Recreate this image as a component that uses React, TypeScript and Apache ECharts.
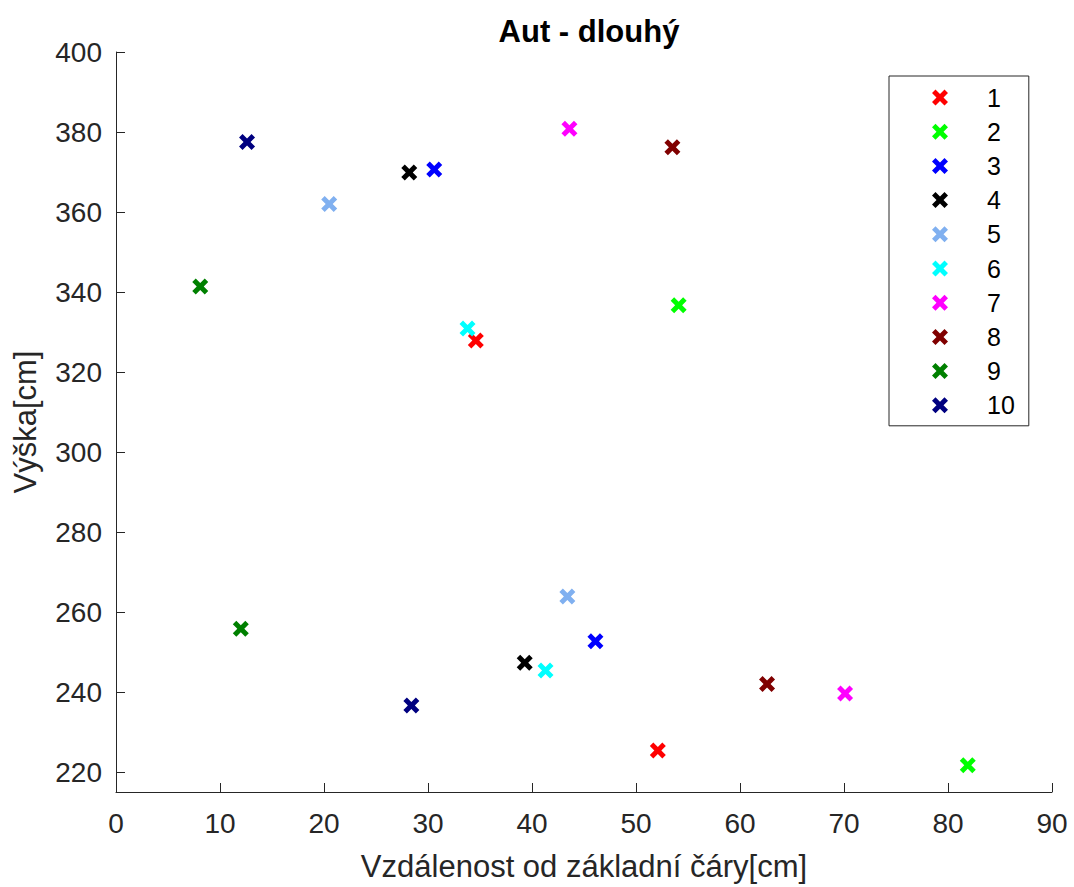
import React, { useEffect, useRef } from "react";
import * as echarts from "echarts";

// Series names (legend) and colours
const seriesNames = ["1", "2", "3", "4", "5", "6", "7", "8", "9", "10"];
const seriesColors = [
  "#FF0000",
  "#00FF00",
  "#0000FF",
  "#000000",
  "#80B0F0",
  "#00FFFF",
  "#FF00FF",
  "#800000",
  "#008000",
  "#000080",
];

// Data: [x (cm), y (cm)] pairs per series
const s1 = [[34.6, 327.9], [52.1, 225.4]];
const s2 = [[54.1, 336.7], [81.9, 221.7]];
const s3 = [[30.6, 370.6], [46.1, 252.7]];
const s4 = [[28.2, 369.9], [39.3, 247.3]];
const s5 = [[20.5, 362.0], [43.4, 263.9]];
const s6 = [[33.8, 330.9], [41.3, 245.4]];
const s7 = [[43.6, 380.8], [70.1, 239.6]];
const s8 = [[53.5, 376.2], [62.6, 242.0]];
const s9 = [[8.1, 341.4], [12.0, 255.8]];
const s10 = [[12.6, 377.5], [28.4, 236.6]];
const seriesData = [s1, s2, s3, s4, s5, s6, s7, s8, s9, s10];

// Axis ticks
const xMin = 0;
const xMax = 90;
const xInterval = 10;
const yMin = 215;
const yMax = 400;
const yTickValues = [220, 240, 260, 280, 300, 320, 340, 360, 380, 400];

const titleText = "Aut - dlouhý";
const xAxisTitle = "Vzdálenost od základní čáry[cm]";
const yAxisTitle = "Výška[cm]";

const FONT = "'Liberation Sans', Arial, Helvetica, sans-serif";
const AXIS_COLOR = "#262626";
const X_SYMBOL =
  "path://M0,3.5 L3.5,0 L8,4.5 L12.5,0 L16,3.5 L11.5,8 L16,12.5 L12.5,16 L8,11.5 L3.5,16 L0,12.5 L4.5,8 Z";

export default function App() {
  const ref = useRef<HTMLDivElement>(null);

  useEffect(() => {
    if (!ref.current) return;
    const chart = echarts.init(ref.current, null, { renderer: "svg" });

    const series = seriesNames.map((name, i) => ({
      name,
      type: "scatter",
      data: seriesData[i],
      symbol: X_SYMBOL,
      symbolSize: 16,
      itemStyle: { color: seriesColors[i], opacity: 1 },
      emphasis: { disabled: true },
    }));

    chart.setOption({
      animation: false,
      backgroundColor: "#ffffff",
      textStyle: { fontFamily: FONT },
      title: {
        text: titleText,
        left: 584,
        top: 11,
        textAlign: "center",
        textStyle: {
          fontFamily: FONT,
          fontSize: 31,
          fontWeight: "bold",
          color: "#000000",
        },
      },
      legend: {
        orient: "vertical",
        left: 889,
        top: 76,
        padding: [9, 14, 8, 43],
        itemWidth: 16,
        itemHeight: 16,
        itemGap: 9.2,
        borderColor: AXIS_COLOR,
        borderWidth: 1,
        backgroundColor: "#ffffff",
        selectedMode: false,
        data: seriesNames,
        textStyle: {
          fontFamily: FONT,
          fontSize: 25,
          color: "#000000",
          padding: [0, 0, 0, 34],
        },
      },
      grid: { left: 116, right: 22, top: 52, bottom: 94 },
      xAxis: {
        type: "value",
        min: xMin,
        max: xMax,
        interval: xInterval,
        name: xAxisTitle,
        nameLocation: "middle",
        nameGap: 59,
        nameTextStyle: { fontFamily: FONT, fontSize: 31, color: AXIS_COLOR },
        axisLine: { show: true, onZero: false, lineStyle: { color: AXIS_COLOR, width: 1 } },
        axisTick: { show: true, inside: true, length: 9, lineStyle: { color: AXIS_COLOR } },
        axisLabel: { fontFamily: FONT, fontSize: 28, color: AXIS_COLOR, margin: 17 },
        splitLine: { show: false },
      },
      yAxis: {
        type: "value",
        min: yMin,
        max: yMax,
        name: yAxisTitle,
        nameLocation: "middle",
        nameGap: 75,
        nameRotate: 90,
        nameTextStyle: { fontFamily: FONT, fontSize: 31, color: AXIS_COLOR },
        axisLine: { show: true, onZero: false, lineStyle: { color: AXIS_COLOR, width: 1 } },
        axisTick: {
          show: true,
          inside: true,
          length: 9,
          customValues: yTickValues,
          lineStyle: { color: AXIS_COLOR },
        },
        axisLabel: {
          fontFamily: FONT,
          fontSize: 28,
          color: AXIS_COLOR,
          margin: 14,
          customValues: yTickValues,
        },
        splitLine: { show: false },
      },
      series,
    });

    return () => {
      chart.dispose();
    };
  }, []);

  return (
    <div
      ref={ref}
      style={{ position: "absolute", left: 0, top: 0, width: 1074, height: 887 }}
    />
  );
}
